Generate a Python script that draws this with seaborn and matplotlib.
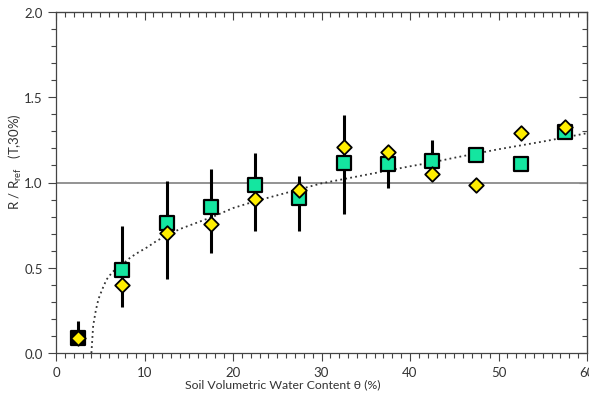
import numpy as np
import pandas as pd
import matplotlib.pyplot as plt
from matplotlib.ticker import MultipleLocator
import seaborn as sns

# Data
theta = [2.5, 7.5, 12.5, 17.5, 22.5, 27.5, 32.5, 37.5, 42.5, 47.5, 52.5, 57.5]
ratio_sq = [0.09, 0.487, 0.761, 0.854, 0.987, 0.907, 1.112, 1.108, 1.128, 1.161, 1.108, 1.294]
ratio_dia = [0.09, 0.40, 0.702, 0.757, 0.903, 0.958, 1.206, 1.177, 1.05, 0.985, 1.288, 1.327]
err_lo = [0.06, 0.268, 0.434, 0.585, 0.714, 0.714, 0.815, 0.968, 1.05, np.nan, np.nan, np.nan]
err_hi = [0.19, 0.743, 1.007, 1.079, 1.173, 1.040, 1.396, 1.15, 1.251, np.nan, np.nan, np.nan]

# dotted fit curve
fit_theta = [4.0, 4.2, 4.5, 4.8, 5.2, 5.7, 6.3, 6.9, 7.5, 8.4, 9.3, 10.3, 11.3, 12.5, 14.0,
             16.0, 18.0, 20.0, 22.5, 25.0, 27.5, 30.0, 32.5, 35.0, 40.0, 42.5, 45.0, 50.0, 55.0, 60.0]
fit_ratio = [0.0, 0.16, 0.25, 0.317, 0.37, 0.43, 0.47, 0.50, 0.52, 0.56, 0.59, 0.62, 0.655, 0.69, 0.727,
             0.766, 0.805, 0.85, 0.89, 0.925, 0.96, 0.995, 1.02, 1.045, 1.095, 1.118, 1.145, 1.195, 1.24, 1.289]

df = pd.DataFrame({"theta": theta, "sq": ratio_sq, "dia": ratio_dia})

sns.set_style("ticks")
plt.rcParams['font.family'] = ['Lato', 'DejaVu Sans']

fig = plt.figure(figsize=(5.89, 4.02), dpi=100)
ax = fig.add_axes([56 / 589, 1 - 354 / 402, 531 / 589, 341 / 402])

# reference line at 1.0
ax.axhline(1.0, color="#8a8a8a", lw=1.3, zorder=1)

# fit curve
sns.lineplot(x=fit_theta, y=fit_ratio, ax=ax, color="#333333", lw=1.3,
             linestyle=(0, (1, 1.8)), sort=False, zorder=2)

# error bars
ax.vlines(theta, err_lo, err_hi, color="black", lw=2.2, zorder=3)

# squares (first one appears black)
sq_colors = ["black"] + ["#14e6a0"] * (len(theta) - 1)
ax.scatter(df["theta"], df["sq"], marker="s", s=100, c=sq_colors,
           edgecolors="black", linewidths=1.6, zorder=4)

# diamonds
sns.scatterplot(data=df, x="theta", y="dia", marker="D", s=55, color="#ffee00",
                edgecolor="black", linewidth=1.3, ax=ax, zorder=5)

ax.set_xlim(0, 60)
ax.set_ylim(0, 2.0)
ax.xaxis.set_major_locator(MultipleLocator(10))
ax.xaxis.set_minor_locator(MultipleLocator(1))
ax.yaxis.set_major_locator(MultipleLocator(0.5))
ax.yaxis.set_minor_locator(MultipleLocator(0.1))
ax.yaxis.set_major_formatter(plt.FormatStrFormatter("%.1f"))

ax.tick_params(axis="both", which="both", direction="out", colors="#444444",
               labelcolor="#333333", labelsize=9.5, width=0.8)
ax.tick_params(which="major", length=6)
ax.tick_params(which="minor", length=3.5)

for side in ["left", "bottom", "top", "right"]:
    ax.spines[side].set_visible(True)
    ax.spines[side].set_color("#444444")
    ax.spines[side].set_linewidth(0.9)

# inward ticks on top and right
ax_top = ax.secondary_xaxis("top")
ax_top.xaxis.set_major_locator(MultipleLocator(10))
ax_top.xaxis.set_minor_locator(MultipleLocator(1))
ax_top.tick_params(which="both", direction="in", labeltop=False, colors="#444444", width=0.8)
ax_top.tick_params(which="major", length=6)
ax_top.tick_params(which="minor", length=3.5)
ax_right = ax.secondary_yaxis("right")
ax_right.yaxis.set_major_locator(MultipleLocator(0.5))
ax_right.yaxis.set_minor_locator(MultipleLocator(0.1))
ax_right.tick_params(which="both", direction="in", labelright=False, colors="#444444", width=0.8)
ax_right.tick_params(which="major", length=6)
ax_right.tick_params(which="minor", length=3.5)

ax.set_xlabel("Soil Volumetric Water Content θ (%)", fontsize=8.8, color="#333333", labelpad=3)
ax.xaxis.set_label_coords(0.4275, -0.075)
ax.set_ylabel(r"R / R$_\mathregular{ref}$   (T,30%)", fontsize=9.5, color="#333333")
ax.yaxis.set_label_coords(-0.06, 0.563)

plt.savefig("out.png", dpi=100)
